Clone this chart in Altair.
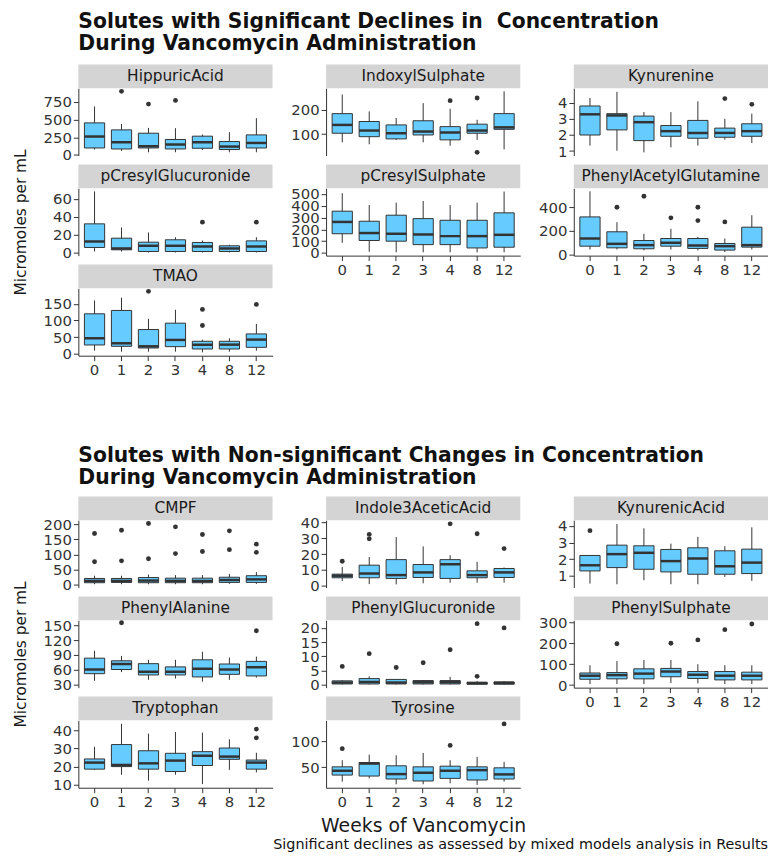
import altair as alt
import pandas as pd

# ---------------- data ----------------
WEEKS = ["0", "1", "2", "3", "4", "8", "12"]

# per solute: lower whisker, Q1, median, Q3, upper whisker for each week
HIPPURIC = {"lower": [77, 57, 38, 38, 71, 38, 38],
            "q1": [99, 85, 99, 85, 95, 77, 99],
            "median": [261, 180, 124, 148, 180, 119, 170],
            "q3": [454, 355, 308, 219, 266, 190, 284],
            "upper": [687, 440, 383, 379, 290, 322, 521]}
HIPPURIC_OUT = [("1", 900), ("2", 720), ("3", 772)]

INDOXYL = {"lower": [67, 59, 77, 67, 53, 77, 38],
           "q1": [104, 90, 81, 97, 77, 104, 120],
           "median": [138, 115, 104, 111, 107, 115, 128],
           "q3": [184, 152, 138, 155, 131, 141, 184],
           "upper": [262, 193, 166, 227, 204, 159, 275]}
INDOXYL_OUT = [("4", 237), ("8", 248), ("8", 26)]

KYNURENINE = {"lower": [1.34, 1.02, 0.92, 1.23, 1.34, 1.71, 1.5],
              "q1": [2.0, 2.32, 1.65, 1.92, 1.8, 1.86, 1.92],
              "median": [3.29, 3.22, 2.8, 2.24, 2.13, 2.13, 2.24],
              "q3": [3.81, 3.33, 3.18, 2.59, 2.91, 2.43, 2.7],
              "upper": [4.31, 4.69, 3.43, 3.43, 4.1, 3.01, 3.33]}
KYNURENINE_OUT = [("8", 4.27), ("12", 3.91)]

PCRESYLGLUC = {"lower": [1.1, 1.1, 0, 0, 0, 0, 0],
               "q1": [5.6, 3.0, 1.1, 1.1, 1.1, 1.1, 1.1],
               "median": [12.3, 4.5, 7.5, 7.5, 6.7, 4.5, 6.7],
               "q3": [32, 16, 11.5, 14.2, 11.2, 7.5, 13],
               "upper": [68.2, 27.9, 22.4, 17.1, 13.4, 8.6, 17.1]}
PCRESYLGLUC_OUT = [("4", 33.9), ("12", 33.9)]

PCRESYLSULPH = {"lower": [86, 11, 6, 6, 6, 6, 6],
                "q1": [163, 106, 100, 71, 71, 43, 49],
                "median": [263, 169, 163, 157, 143, 143, 154],
                "q3": [354, 269, 320, 291, 277, 277, 340],
                "upper": [506, 406, 426, 440, 406, 426, 520]}
PCRESYLSULPH_OUT = []

PAG = {"lower": [42, 42, 34, 42, 34, 20, 42],
       "q1": [70, 56, 48, 70, 51, 37, 62],
       "median": [135, 90, 79, 99, 76, 70, 79],
       "q3": [318, 192, 118, 135, 135, 93, 231],
       "upper": [535, 273, 175, 217, 149, 135, 332]}
PAG_OUT = [("1", 400), ("2", 493), ("3", 310), ("4", 400), ("4", 287), ("8", 276)]

TMAO = {"lower": [10, 7, 7, 7, 5, 7, 10],
        "q1": [27, 23, 18, 22, 15, 15, 20],
        "median": [47, 32, 23, 42, 28, 28, 43],
        "q3": [120, 130, 73, 92, 38, 38, 60],
        "upper": [160, 168, 105, 132, 43, 47, 90]}
TMAO_OUT = [("2", 187), ("4", 133), ("4", 85), ("12", 148)]

CMPF = {"lower": [2, 2, 2, 2, 2, 3, 3],
        "q1": [7, 8, 7, 7, 7, 8, 8],
        "median": [13, 13, 14, 13, 13, 16, 18],
        "q3": [21, 21, 24, 22, 22, 25, 30],
        "upper": [30, 30, 34, 32, 32, 36, 42]}
CMPF_OUT = [("0", 169), ("0", 76), ("1", 180), ("1", 79), ("2", 202), ("2", 86),
            ("3", 191), ("3", 103), ("4", 166), ("4", 110), ("8", 178), ("8", 116),
            ("12", 134), ("12", 107)]

INDOLE = {"lower": [2.9, 1.0, 0.8, 1.5, 1.9, 1.9, 1.9],
          "q1": [5.0, 5.0, 4.6, 5.2, 4.6, 5.0, 5.2],
          "median": [6.3, 7.7, 6.7, 8.4, 13.6, 6.7, 8.4],
          "q3": [7.3, 13.0, 16.5, 13.4, 16.5, 9.4, 10.9],
          "upper": [11.9, 18.2, 30.8, 24.9, 19.3, 15.1, 11.5]}
INDOLE_OUT = [("0", 15.5), ("1", 32.5), ("1", 29.7), ("4", 39.2), ("8", 32.9), ("12", 23.5)]

KYNACID = {"lower": [0.54, 0.5, 0.74, 0.5, 0.5, 0.94, 0.7],
           "q1": [1.3, 1.5, 1.4, 1.24, 1.1, 1.1, 1.14],
           "median": [1.64, 2.31, 2.39, 1.89, 2.05, 1.58, 1.8],
           "q3": [2.23, 2.85, 2.81, 2.59, 2.69, 2.51, 2.61],
           "upper": [2.25, 4.12, 3.86, 2.94, 3.35, 2.79, 3.92]}
KYNACID_OUT = [("0", 3.72)]

PHENYLALANINE = {"lower": [37.8, 55.4, 39.8, 42.4, 35.9, 39.8, 44.3],
                 "q1": [52.2, 60.6, 49.6, 49.6, 45.6, 50.9, 47.6],
                 "median": [60.6, 71.7, 56.1, 56.1, 62.0, 60.6, 65.2],
                 "q3": [83.5, 78.2, 72.4, 65.9, 80.2, 71.7, 77.0],
                 "upper": [98.5, 88.0, 80.2, 80.2, 96.5, 84.8, 86.7]}
PHENYLALANINE_OUT = [("1", 155), ("12", 138.9)]

PHENYLGLUC = {"lower": [0, 0, 0, 0, 0, 0, 0],
              "q1": [0.2, 0.2, 0.2, 0.2, 0.2, 0.1, 0.1],
              "median": [0.7, 0.9, 0.7, 0.8, 0.8, 0.5, 0.6],
              "q3": [1.3, 2.1, 1.8, 1.4, 1.4, 0.8, 0.9],
              "upper": [1.5, 2.9, 1.8, 1.6, 2.7, 1.2, 1.2]}
PHENYLGLUC_OUT = [("0", 6.4), ("1", 10.9), ("2", 6.0), ("3", 7.7), ("4", 12.3),
                  ("8", 21.5), ("8", 2.9), ("12", 20.0)]

PHENYLSULPH = {"lower": [5, 5, 5, 10, 8, 5, 5],
               "q1": [28, 30, 30, 40, 32, 25, 25],
               "median": [45, 48, 55, 65, 50, 45, 45],
               "q3": [58, 60, 78, 80, 65, 65, 62],
               "upper": [95, 115, 120, 120, 100, 95, 95]}
PHENYLSULPH_OUT = [("1", 198), ("3", 200), ("4", 216), ("8", 265), ("12", 292)]

TRYPTOPHAN = {"lower": [18.3, 15.6, 12.4, 15.6, 10.5, 18.3, 16.9],
              "q1": [18.7, 20.1, 18.7, 17.4, 20.7, 24.1, 18.7],
              "median": [22.3, 21.0, 21.9, 23.4, 26.1, 25.6, 22.3],
              "q3": [24.3, 32.2, 28.8, 27.4, 28.3, 30.3, 23.7],
              "upper": [31.0, 43.6, 38.2, 39.1, 38.8, 35.1, 27.7]}
TRYPTOPHAN_OUT = [("12", 40.7), ("12", 35.9)]

TYROSINE = {"lower": [21.8, 28.2, 16.7, 16.7, 18.6, 15.4, 21.8],
            "q1": [34.6, 32.7, 26.9, 23.1, 28.2, 25.0, 26.9],
            "median": [43.0, 57.0, 36.5, 39.1, 43.0, 44.2, 35.9],
            "q3": [50.6, 59.0, 52.6, 50.6, 51.9, 50.6, 48.7],
            "upper": [63.5, 74.4, 73.0, 77.6, 63.5, 69.9, 60.3]}
TYROSINE_OUT = [("0", 85.9), ("4", 92.3), ("12", 134)]

TITLE_TOP = ["Solutes with Significant Declines in\u00a0 Concentration",
             "During Vancomycin Administration"]
TITLE_BOTTOM = ["Solutes with Non-significant Changes in Concentration",
                "During Vancomycin Administration"]
Y_TITLE = "Micromoles per mL"
X_TITLE = "Weeks of Vancomycin"
CAPTION = "Significant declines as assessed by mixed models analysis in Results"

# ---------------- styling ----------------
FONT = "DejaVu Sans"
W, H = 196, 68
BOX_W = W / 7.2 * 0.75
BLUE = "#66CCFF"
DARK = "#333333"
STRIP = "#d4d4d4"
ONE = pd.DataFrame({"v": [0]})


def text_layer(text, x, y, size, align="left", weight="normal", line_height=None):
    kw = dict(text=text, font=FONT, fontSize=size, fontWeight=weight, align=align,
              baseline="alphabetic", color="#111111")
    if line_height:
        kw["lineHeight"] = line_height
    return alt.Chart(ONE).mark_text(**kw).encode(x=alt.value(x), y=alt.value(y))


def panel(name, stats, outliers, domain, ticks, xaxis=False, xtitle=None,
          ytitle=None, extras=()):
    df = pd.DataFrame({"week": WEEKS, **stats})
    xscale = alt.Scale(domain=WEEKS, paddingInner=0.25, paddingOuter=0.225)
    if xaxis:
        xax = alt.Axis(labelAngle=0, title=xtitle, titleFontSize=19, titlePadding=7)
    else:
        xax = None
    x = alt.X("week:N", scale=xscale, axis=xax)
    yargs = dict(values=ticks, labelOverlap=False, labelFlush=False, grid=False)
    if ytitle:
        yargs.update(title=ytitle, titleX=-53, titleY=H / 2, titleAngle=270,
                     titleBaseline="alphabetic", titleAlign="center")
    else:
        yargs.update(title=None)
    yax = alt.Axis(**yargs)
    ys = alt.Scale(domain=domain, nice=False, zero=False)

    sdf = pd.DataFrame({"label": [name]})
    strip = alt.Chart(sdf).mark_rect(fill=STRIP).encode(
        x=alt.value(0), x2=alt.value(W), y=alt.value(-24), y2=alt.value(0))
    lab = alt.Chart(sdf).mark_text(font=FONT, fontSize=15.5, color="#1a1a1a",
                                   baseline="middle", align="center").encode(
        text="label:N", x=alt.value(W / 2), y=alt.value(-12))
    whisk = alt.Chart(df).mark_rule(color=DARK, strokeWidth=1).encode(
        x=x, y=alt.Y("lower:Q", scale=ys, axis=yax), y2="upper:Q")
    box = alt.Chart(df).mark_bar(fill=BLUE, stroke=DARK, strokeWidth=1).encode(
        x=x, y=alt.Y("q1:Q", scale=ys, axis=yax), y2="q3:Q")
    med = alt.Chart(df).mark_tick(color=DARK, thickness=2.5, size=BOX_W,
                                  orient="horizontal", opacity=1).encode(
        x=x, y=alt.Y("median:Q", scale=ys, axis=yax))
    layers = [strip, lab, whisk, box, med]
    if outliers:
        odf = pd.DataFrame(outliers, columns=["week", "value"])
        layers.append(alt.Chart(odf).mark_circle(color=DARK, size=24, opacity=1).encode(
            x=x, y=alt.Y("value:Q", scale=ys, axis=yax)))
    layers.extend(extras)
    return alt.layer(*layers).properties(width=W, height=H)


def spacer(h, extras=()):
    base = alt.Chart(ONE).mark_point(opacity=0).encode(x=alt.value(0), y=alt.value(0))
    return alt.layer(base, *extras).properties(width=W, height=h)


cells = [
    panel("HippuricAcid", HIPPURIC, HIPPURIC_OUT, [-8, 945], [0, 250, 500, 750],
          extras=[text_layer(TITLE_TOP, 0, -61, 20.5, weight="bold", line_height=22.5)]),
    panel("IndoxylSulphate", INDOXYL, INDOXYL_OUT, [13, 288], [100, 200]),
    panel("Kynurenine", KYNURENINE, KYNURENINE_OUT, [0.72, 4.92], [1, 2, 3, 4]),

    panel("pCresylGlucuronide", PCRESYLGLUC, PCRESYLGLUC_OUT, [-3.5, 71.8], [0, 20, 40, 60],
          ytitle=Y_TITLE),
    panel("pCresylSulphate", PCRESYLSULPH, PCRESYLSULPH_OUT, [-22, 548],
          [0, 100, 200, 300, 400, 500], xaxis=True),
    panel("PhenylAcetylGlutamine", PAG, PAG_OUT, [-10, 561], [0, 200, 400], xaxis=True),

    panel("TMAO", TMAO, TMAO_OUT, [-5, 196], [0, 50, 100, 150], xaxis=True),
    spacer(H),
    spacer(H),

    spacer(100, extras=[text_layer(TITLE_BOTTOM, 0, 74, 20.5, weight="bold", line_height=22.5)]),
    spacer(100),
    spacer(100),

    panel("CMPF", CMPF, CMPF_OUT, [-9, 213], [0, 50, 100, 150, 200]),
    panel("Indole3AceticAcid", INDOLE, INDOLE_OUT, [-1.2, 41.5], [0, 10, 20, 30, 40]),
    panel("KynurenicAcid", KYNACID, KYNACID_OUT, [0.3, 4.35], [1, 2, 3, 4]),

    panel("PhenylAlanine", PHENYLALANINE, PHENYLALANINE_OUT, [24, 160],
          [30, 60, 90, 120, 150], ytitle=Y_TITLE),
    panel("PhenylGlucuronide", PHENYLGLUC, PHENYLGLUC_OUT, [-1.1, 22.7], [0, 5, 10, 15, 20]),
    panel("PhenylSulphate", PHENYLSULPH, PHENYLSULPH_OUT, [-12, 310], [0, 100, 200, 300],
          xaxis=True),

    panel("Tryptophan", TRYPTOPHAN, TRYPTOPHAN_OUT, [8.5, 45.5], [10, 20, 30, 40], xaxis=True),
    panel("Tyrosine", TYROSINE, TYROSINE_OUT, [10, 141], [50, 100], xaxis=True, xtitle=X_TITLE),
    spacer(H, extras=[text_layer(CAPTION, W, 130, 14.5, align="right")]),
]

chart = alt.concat(
    *cells, columns=3, spacing={"row": 33, "column": 54}, bounds="flush", align="each"
).properties(
    padding={"left": 6, "top": 0, "right": 0, "bottom": 0}
).configure_view(stroke=None).configure_axis(
    labelFont=FONT, labelFontSize=15, labelColor="#333333",
    titleFont=FONT, titleFontSize=15.5, titleFontWeight="normal", titleColor="#1a1a1a",
    domainColor=DARK, domainWidth=1, tickColor=DARK, tickWidth=1, tickSize=5,
    labelPadding=2, grid=False,
)

chart.save("out.html", embed_options={"renderer": "svg", "actions": False})
